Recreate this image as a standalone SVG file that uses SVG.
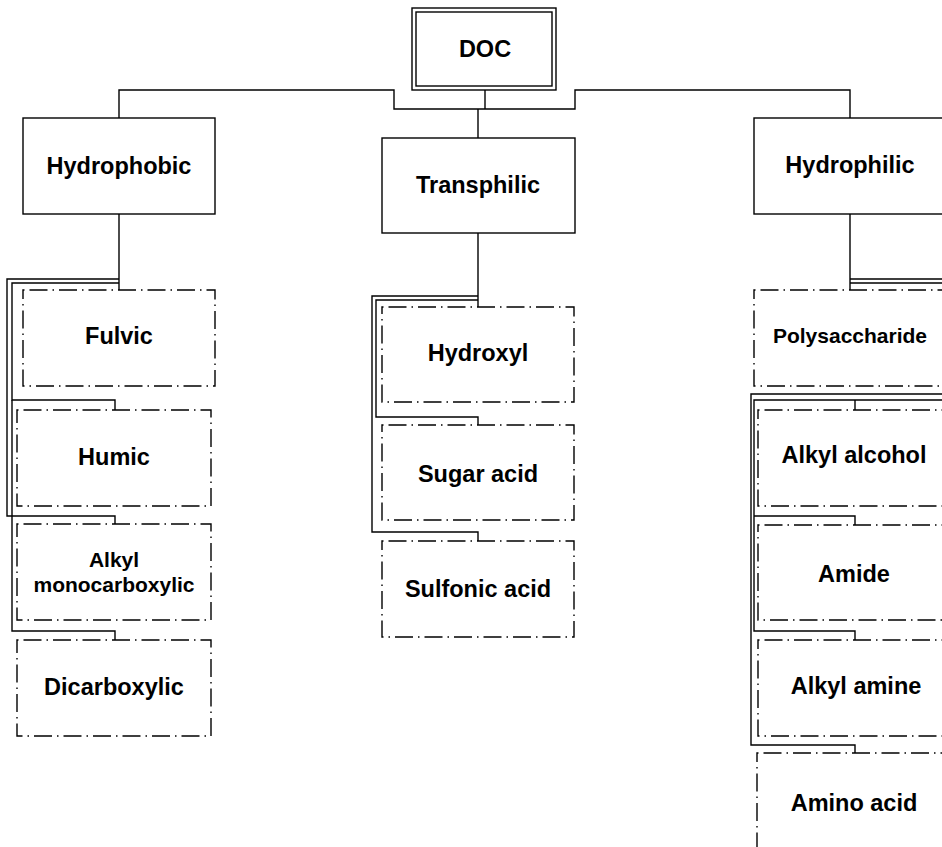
<svg xmlns="http://www.w3.org/2000/svg" width="942" height="847" viewBox="0 0 942 847">
<style>
.bg{fill:#fff}
.box{fill:#fff;stroke:#000;stroke-width:1.4}
.dd{fill:#fff;stroke:#000;stroke-width:1.4;stroke-dasharray:1.5 5 18 5}
.ln{fill:none;stroke:#000;stroke-width:1.4}
text{font-family:"Liberation Sans",Arial,sans-serif;font-weight:bold;font-size:23.5px;text-anchor:middle;fill:#000}
.sm{font-size:21px}
</style>
<rect class="bg" x="0" y="0" width="942" height="847"/>
<g id="connectors">
<polyline class="ln" points="119,118 119,90 394,90 394,109 575,109 575,90 850,90 850,118"/>
<polyline class="ln" points="485,90 485,109"/>
<polyline class="ln" points="478,109 478,138"/>
<polyline class="ln" points="119,214 119,290"/>
<polyline class="ln" points="119,279 7,279 7,516 115,516 115,524"/>
<polyline class="ln" points="119,283 12,283 12,400 115,400 115,410"/>
<polyline class="ln" points="12,400 12,631 115,631 115,640"/>
<polyline class="ln" points="478,233 478,307"/>
<polyline class="ln" points="478,296 372,296 372,532 478,532 478,541"/>
<polyline class="ln" points="478,300 376,300 376,417 478,417 478,425"/>
<polyline class="ln" points="850,214 850,290"/>
<polyline class="ln" points="850,279 965,279 965,394 751,394 751,745 855,745 855,753"/>
<polyline class="ln" points="850,283 960,283 960,400 754,400 754,631 855,631 855,640"/>
<polyline class="ln" points="855,400 855,410"/>
<polyline class="ln" points="754,516 855,516 855,525"/>
</g>
<g id="doc">
<rect class="box" x="412" y="8" width="144" height="82"/>
<rect class="box" x="416" y="12" width="136" height="74"/>
<text x="485" y="57">DOC</text>
</g>
<g id="hydrophobic">
<rect class="box" x="23" y="118" width="192" height="96"/>
<text x="119" y="174">Hydrophobic</text>
</g>
<g id="transphilic">
<rect class="box" x="382" y="138" width="193" height="95"/>
<text x="478" y="193">Transphilic</text>
</g>
<g id="hydrophilic">
<rect class="box" x="754" y="118" width="192" height="96"/>
<text x="850" y="173">Hydrophilic</text>
</g>
<g id="fulvic">
<path class="dd" d="M23,290 H215 V386 H23 Z"/>
<text x="119" y="344">Fulvic</text>
</g>
<g id="humic">
<path class="dd" d="M17,410 H211 V506 H17 Z"/>
<text x="114" y="465">Humic</text>
</g>
<g id="alkyl-monocarboxylic">
<path class="dd" d="M17,524 H211 V620 H17 Z"/>
<text class="sm" x="114" y="567">Alkyl</text>
<text class="sm" x="114" y="592">monocarboxylic</text>
</g>
<g id="dicarboxylic">
<path class="dd" d="M17,640 H211 V736 H17 Z"/>
<text x="114" y="695">Dicarboxylic</text>
</g>
<g id="hydroxyl">
<path class="dd" d="M382,307 H574 V402 H382 Z"/>
<text x="478" y="361">Hydroxyl</text>
</g>
<g id="sugar-acid">
<path class="dd" d="M382,425 H574 V520 H382 Z"/>
<text x="478" y="482">Sugar acid</text>
</g>
<g id="sulfonic-acid">
<path class="dd" d="M382,541 H574 V637 H382 Z"/>
<text x="478" y="597">Sulfonic acid</text>
</g>
<g id="polysaccharide">
<path class="dd" d="M754,290 H946 V386 H754 Z"/>
<text class="sm" x="850" y="343">Polysaccharide</text>
</g>
<g id="alkyl-alcohol">
<path class="dd" d="M758,410 H950 V506 H758 Z"/>
<text x="854" y="463">Alkyl alcohol</text>
</g>
<g id="amide">
<path class="dd" d="M758,525 H950 V620 H758 Z"/>
<text x="854" y="582">Amide</text>
</g>
<g id="alkyl-amine">
<path class="dd" d="M758,640 H950 V736 H758 Z"/>
<text x="856" y="694">Alkyl amine</text>
</g>
<g id="amino-acid">
<path class="dd" d="M757,753 H949 V849 H757 Z"/>
<text x="854" y="811">Amino acid</text>
</g>
</svg>
